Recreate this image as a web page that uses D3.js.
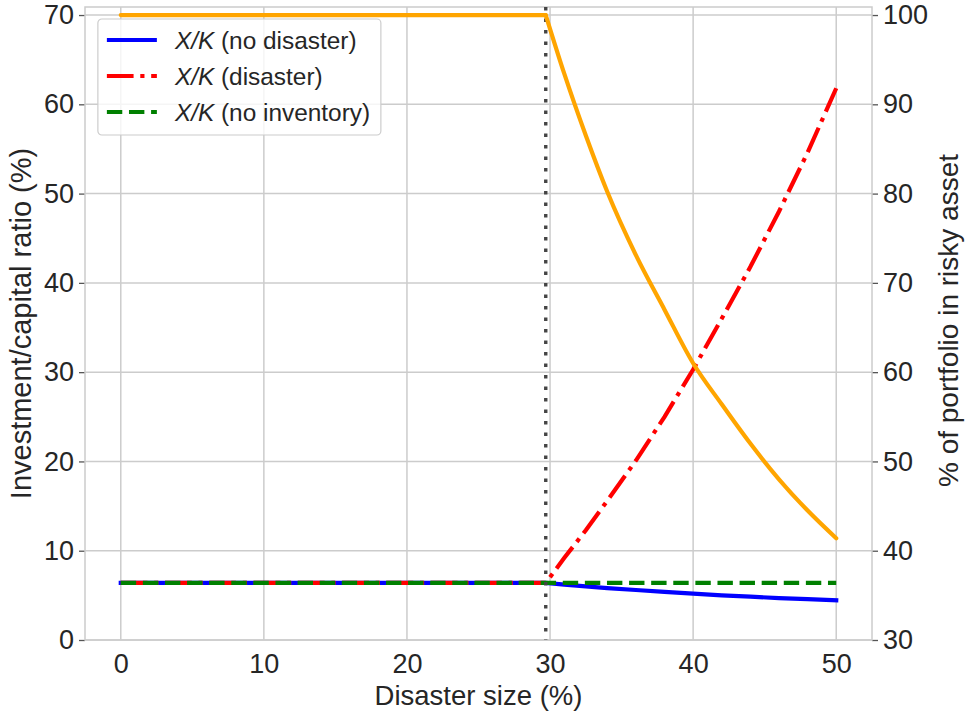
<!DOCTYPE html>
<html>
<head>
<meta charset="utf-8">
<script src="https://cdnjs.cloudflare.com/ajax/libs/d3/7.8.5/d3.min.js"></script>
<style>
  body { margin: 0; background: #fff; }
  svg { font-family: "Liberation Sans", Arial, sans-serif; }
</style>
</head>
<body>
<div class="chart"></div>
<script>
// disaster size (%) where the curves start to move
var threshold = 29.7;

var xFlat = [0, 5, 10, 15, 20, 25, 29.7];
var xBend = [29.7, 31, 32.5, 34, 36, 38, 40, 42, 44, 46, 48, 50];

// X/K with no disaster, disaster, and no inventory (left axis, %)
var xkNoDisaster = [6.4, 6.2, 6.0, 5.8, 5.6, 5.4, 5.2, 5.0, 4.85, 4.7, 4.57, 4.45];
var xkDisaster   = [6.4, 9.2, 12.3, 15.6, 20.1, 25.0, 30.3, 36.0, 41.8, 48.0, 54.6, 61.8];
var xkFlat = 6.4;
var xkNoInventory = [6.4, 6.4];
var xNoInventory = [0, 50];

// share of portfolio in risky asset (right axis, %)
var riskyFlat = 100;
var riskyShare = [100, 93.4, 86.5, 80.2, 73.1, 67.0, 61.0, 56.4, 52.0, 48.0, 44.5, 41.4];

var xTicks = [0, 10, 20, 30, 40, 50];
var leftTicks = [0, 10, 20, 30, 40, 50, 60, 70];
var rightTicks = [30, 40, 50, 60, 70, 80, 90, 100];

var legendLabels = ["(no disaster)", "(disaster)", "(no inventory)"];

function chart() {
    var W = 967, H = 715;
    var margin = {top: 7, right: 95, bottom: 75, left: 85};
    var width = W - margin.left - margin.right;
    var height = H - margin.top - margin.bottom;
    var textColor = "#262626";
    var gridColor = "#cccccc";
    var fs = "27px";

    var x = d3.scaleLinear().domain([-2.5, 52.5]).range([0, width]);
    var yL = d3.scaleLinear().domain([0, 70.9]).range([height, 0]);
    var yR = d3.scaleLinear().domain([30, 100.9]).range([height, 0]);

    var svg = d3.select(".chart").append("svg")
            .attr("width", W)
            .attr("height", H)
            .append("g")
            .attr("transform", "translate(" + margin.left + "," + margin.top + ")");

    // grid
    svg.append("g").selectAll("line").data(xTicks).enter().append("line")
        .attr("x1", function (d) { return x(d); })
        .attr("x2", function (d) { return x(d); })
        .attr("y1", 0).attr("y2", height)
        .attr("stroke", gridColor).attr("stroke-width", 1.5);
    svg.append("g").selectAll("line").data(leftTicks).enter().append("line")
        .attr("x1", 0).attr("x2", width)
        .attr("y1", function (d) { return yL(d); })
        .attr("y2", function (d) { return yL(d); })
        .attr("stroke", gridColor).attr("stroke-width", 1.5);

    // axes
    var xAxis = d3.axisBottom(x).tickValues(xTicks).tickSize(0).tickPadding(14);
    var yAxisL = d3.axisLeft(yL).tickValues(leftTicks).tickSize(6).tickPadding(5);
    var yAxisR = d3.axisRight(yR).tickValues(rightTicks).tickSize(6).tickPadding(5);

    var gx = svg.append("g").attr("transform", "translate(0," + height + ")").call(xAxis);
    var gl = svg.append("g").call(yAxisL);
    var gr = svg.append("g").attr("transform", "translate(" + width + ",0)").call(yAxisR);

    [gx, gl, gr].forEach(function (g) {
        g.select(".domain").remove();
        g.selectAll(".tick line").attr("stroke", "#555").attr("stroke-width", 1.3);
        g.selectAll(".tick text").attr("fill", textColor).style("font-size", fs);
    });

    // frame
    svg.append("rect")
        .attr("x", 0).attr("y", 0).attr("width", width).attr("height", height)
        .attr("fill", "none").attr("stroke", gridColor).attr("stroke-width", 1.5);

    var lineL = d3.line()
        .x(function (d) { return x(d[0]); })
        .y(function (d) { return yL(d[1]); });
    var lineR = d3.line()
        .x(function (d) { return x(d[0]); })
        .y(function (d) { return yR(d[1]); });
    var curveR = d3.line()
        .curve(d3.curveMonotoneX)
        .x(function (d) { return x(d[0]); })
        .y(function (d) { return yR(d[1]); });

    function join(flatValue, bendValues) {
        var pts = xFlat.map(function (v) { return [v, flatValue]; });
        return pts.concat(xBend.slice(1).map(function (v, i) { return [v, bendValues[i + 1]]; }));
    }

    var lw = 4.2;
    var blue = join(xkFlat, xkNoDisaster);
    var red = join(xkFlat, xkDisaster);
    var green = xNoInventory.map(function (v, i) { return [v, xkNoInventory[i]]; });
    var orangeFlat = xFlat.map(function (v) { return [v, riskyFlat]; });
    var orangeBend = xBend.map(function (v, i) { return [v, riskyShare[i]]; });

    svg.append("path").datum(blue).attr("d", lineL)
        .attr("fill", "none").attr("stroke", "#0000ff").attr("stroke-width", lw)
        .attr("stroke-linecap", "square");
    svg.append("path").datum(red).attr("d", lineL)
        .attr("fill", "none").attr("stroke", "#ff0000").attr("stroke-width", lw)
        .attr("stroke-dasharray", "26.7,6.7,4.2,6.7");
    svg.append("path").datum(green).attr("d", lineL)
        .attr("fill", "none").attr("stroke", "#008000").attr("stroke-width", lw)
        .attr("stroke-dasharray", "15.4,6.7");

    // threshold marker
    svg.append("line")
        .attr("x1", x(threshold)).attr("x2", x(threshold))
        .attr("y1", 0).attr("y2", height)
        .attr("stroke", "#444").attr("stroke-width", 3.4)
        .attr("stroke-dasharray", "3.4,8.1");

    svg.append("path").datum(orangeFlat).attr("d", lineR)
        .attr("fill", "none").attr("stroke", "#ffa500").attr("stroke-width", lw)
        .attr("stroke-linecap", "round");
    svg.append("path").datum(orangeBend).attr("d", curveR)
        .attr("fill", "none").attr("stroke", "#ffa500").attr("stroke-width", lw)
        .attr("stroke-linecap", "round");

    // axis titles
    svg.append("text")
        .attr("x", width / 2).attr("y", height + 65)
        .attr("text-anchor", "middle").attr("fill", textColor)
        .style("font-size", "27.5px")
        .text("Disaster size (%)");
    svg.append("text")
        .attr("transform", "translate(-54," + (height / 2) + ") rotate(-90)")
        .attr("text-anchor", "middle").attr("fill", textColor)
        .style("font-size", "29px")
        .text("Investment/capital ratio (%)");
    svg.append("text")
        .attr("transform", "translate(" + (width + 86) + "," + (height / 2 - 3) + ") rotate(-90)")
        .attr("text-anchor", "middle").attr("fill", textColor)
        .style("font-size", "28px")
        .text("% of portfolio in risky asset");

    // legend
    var legend = svg.append("g").attr("transform", "translate(" + (x(-1.6)) + ",12)");
    legend.append("rect")
        .attr("x", 0).attr("y", 0).attr("width", 283).attr("height", 116)
        .attr("rx", 4).attr("fill", "#fff").attr("fill-opacity", 0.8)
        .attr("stroke", "#cccccc").attr("stroke-width", 1.2);
    var styles = [
        {color: "#0000ff", dash: null},
        {color: "#ff0000", dash: "26.7,6.7,4.2,6.7"},
        {color: "#008000", dash: "15.4,6.7"}
    ];
    legendLabels.forEach(function (lab, i) {
        var yy = 21 + i * 36;
        legend.append("line")
            .attr("x1", 9).attr("x2", 59).attr("y1", yy).attr("y2", yy)
            .attr("stroke", styles[i].color).attr("stroke-width", lw)
            .attr("stroke-dasharray", styles[i].dash);
        var t = legend.append("text")
            .attr("x", 77).attr("y", yy + 8.5)
            .attr("fill", textColor).style("font-size", "24.4px");
        t.append("tspan").style("font-style", "italic").text("X/K");
        t.append("tspan").text(" " + lab);
    });
}

chart();
</script>
</body>
</html>
